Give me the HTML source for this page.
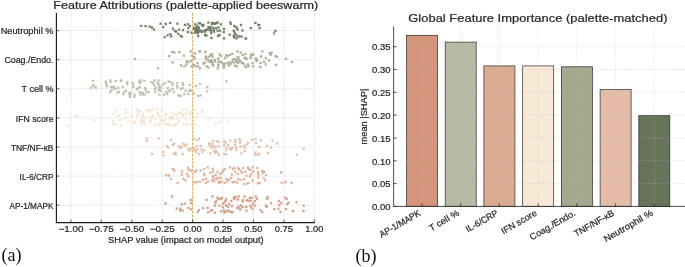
<!DOCTYPE html>
<html><head><meta charset="utf-8"><title>Feature attributions</title>
<style>html,body{margin:0;padding:0;background:#fff}svg text.s{stroke:#262626;stroke-width:0.22px}body{width:685px;height:267px;overflow:hidden}</style></head>
<body>
<svg width="685" height="267" viewBox="0 0 685 267" style="display:block;will-change:transform;font-family:'Liberation Sans',sans-serif">
<rect width="685" height="267" fill="#fff"/>
<g id="left">
<g stroke="#cbcbcb" stroke-width="0.7" stroke-dasharray="1 1.1" fill="none">
<path d="M70.9 13.1V222.6"/>
<path d="M101.3 13.1V222.6"/>
<path d="M131.8 13.1V222.6"/>
<path d="M162.2 13.1V222.6"/>
<path d="M192.6 13.1V222.6"/>
<path d="M223.0 13.1V222.6"/>
<path d="M253.4 13.1V222.6"/>
<path d="M283.9 13.1V222.6"/>
<path d="M314.3 13.1V222.6"/>
<path d="M56.4 30.6H314.8"/>
<path d="M56.4 59.7H314.8"/>
<path d="M56.4 88.8H314.8"/>
<path d="M56.4 117.9H314.8"/>
<path d="M56.4 147.0H314.8"/>
<path d="M56.4 176.1H314.8"/>
<path d="M56.4 205.2H314.8"/>
</g>
<path d="M192.6 13.1V222.6" stroke="#E8A33D" stroke-width="0.9" stroke-dasharray="2.6 1.2" fill="none"/>
<path d="M140.3 24.9l2.0 2.0m0 -2.0l-2.0 2.0M144.5 25.2l2.0 2.0m0 -2.0l-2.0 2.0M148.5 25.6l2.0 2.0m0 -2.0l-2.0 2.0M151.0 26.5l2.0 2.0m0 -2.0l-2.0 2.0M153.0 28.7l2.0 2.0m0 -2.0l-2.0 2.0M159.6 22.6l2.0 2.0m0 -2.0l-2.0 2.0M162.2 26.1l2.0 2.0m0 -2.0l-2.0 2.0M164.7 23.0l2.0 2.0m0 -2.0l-2.0 2.0M169.2 21.9l2.0 2.0m0 -2.0l-2.0 2.0M176.4 22.6l2.0 2.0m0 -2.0l-2.0 2.0M163.6 36.1l2.0 2.0m0 -2.0l-2.0 2.0M166.5 34.4l2.0 2.0m0 -2.0l-2.0 2.0M169.4 33.1l2.0 2.0m0 -2.0l-2.0 2.0M170.2 35.4l2.0 2.0m0 -2.0l-2.0 2.0M171.9 27.6l2.0 2.0m0 -2.0l-2.0 2.0M173.8 29.8l2.0 2.0m0 -2.0l-2.0 2.0M175.1 30.5l2.0 2.0m0 -2.0l-2.0 2.0M177.3 32.8l2.0 2.0m0 -2.0l-2.0 2.0M179.7 34.8l2.0 2.0m0 -2.0l-2.0 2.0M181.0 35.7l2.0 2.0m0 -2.0l-2.0 2.0M178.0 28.7l2.0 2.0m0 -2.0l-2.0 2.0M182.0 29.1l2.0 2.0m0 -2.0l-2.0 2.0M183.9 23.9l2.0 2.0m0 -2.0l-2.0 2.0M249.8 27.2l2.0 2.0m0 -2.0l-2.0 2.0M254.4 21.9l2.0 2.0m0 -2.0l-2.0 2.0M257.3 23.9l2.0 2.0m0 -2.0l-2.0 2.0M258.3 24.2l2.0 2.0m0 -2.0l-2.0 2.0M258.6 27.2l2.0 2.0m0 -2.0l-2.0 2.0M274.4 29.8l2.0 2.0m0 -2.0l-2.0 2.0M273.1 32.4l2.0 2.0m0 -2.0l-2.0 2.0M245.1 37.7l2.0 2.0m0 -2.0l-2.0 2.0M186.9 23.3l2.0 2.0m0 -2.0l-2.0 2.0M188.9 24.8l2.0 2.0m0 -2.0l-2.0 2.0M187.4 27.2l2.0 2.0m0 -2.0l-2.0 2.0M186.9 31.1l2.0 2.0m0 -2.0l-2.0 2.0M190.4 31.6l2.0 2.0m0 -2.0l-2.0 2.0M193.3 27.7l2.0 2.0m0 -2.0l-2.0 2.0M194.3 28.7l2.0 2.0m0 -2.0l-2.0 2.0M195.2 29.7l2.0 2.0m0 -2.0l-2.0 2.0M195.7 27.7l2.0 2.0m0 -2.0l-2.0 2.0M194.7 31.1l2.0 2.0m0 -2.0l-2.0 2.0M193.8 31.6l2.0 2.0m0 -2.0l-2.0 2.0M196.2 26.7l2.0 2.0m0 -2.0l-2.0 2.0M197.2 30.1l2.0 2.0m0 -2.0l-2.0 2.0M196.7 32.1l2.0 2.0m0 -2.0l-2.0 2.0M197.7 28.7l2.0 2.0m0 -2.0l-2.0 2.0M197.2 35.0l2.0 2.0m0 -2.0l-2.0 2.0M198.1 26.3l2.0 2.0m0 -2.0l-2.0 2.0M198.6 30.6l2.0 2.0m0 -2.0l-2.0 2.0M197.7 22.4l2.0 2.0m0 -2.0l-2.0 2.0M199.1 22.4l2.0 2.0m0 -2.0l-2.0 2.0M200.1 29.7l2.0 2.0m0 -2.0l-2.0 2.0M201.1 23.8l2.0 2.0m0 -2.0l-2.0 2.0M202.0 24.8l2.0 2.0m0 -2.0l-2.0 2.0M202.5 23.8l2.0 2.0m0 -2.0l-2.0 2.0M201.1 31.1l2.0 2.0m0 -2.0l-2.0 2.0M203.0 29.7l2.0 2.0m0 -2.0l-2.0 2.0M204.0 34.0l2.0 2.0m0 -2.0l-2.0 2.0M205.4 34.5l2.0 2.0m0 -2.0l-2.0 2.0M205.0 29.2l2.0 2.0m0 -2.0l-2.0 2.0M205.9 28.7l2.0 2.0m0 -2.0l-2.0 2.0M207.4 21.7l2.0 2.0m0 -2.0l-2.0 2.0M207.9 26.7l2.0 2.0m0 -2.0l-2.0 2.0M208.4 29.2l2.0 2.0m0 -2.0l-2.0 2.0M209.3 25.8l2.0 2.0m0 -2.0l-2.0 2.0M209.8 27.7l2.0 2.0m0 -2.0l-2.0 2.0M210.3 30.1l2.0 2.0m0 -2.0l-2.0 2.0M210.5 37.0l2.0 2.0m0 -2.0l-2.0 2.0M211.1 21.9l2.0 2.0m0 -2.0l-2.0 2.0M211.8 22.4l2.0 2.0m0 -2.0l-2.0 2.0M212.3 26.7l2.0 2.0m0 -2.0l-2.0 2.0M212.8 28.7l2.0 2.0m0 -2.0l-2.0 2.0M213.2 30.6l2.0 2.0m0 -2.0l-2.0 2.0M213.7 22.4l2.0 2.0m0 -2.0l-2.0 2.0M214.2 22.8l2.0 2.0m0 -2.0l-2.0 2.0M215.2 27.2l2.0 2.0m0 -2.0l-2.0 2.0M216.2 21.9l2.0 2.0m0 -2.0l-2.0 2.0M216.6 29.7l2.0 2.0m0 -2.0l-2.0 2.0M217.1 35.0l2.0 2.0m0 -2.0l-2.0 2.0M217.6 26.3l2.0 2.0m0 -2.0l-2.0 2.0M218.6 34.0l2.0 2.0m0 -2.0l-2.0 2.0M219.1 29.7l2.0 2.0m0 -2.0l-2.0 2.0M219.9 23.3l2.0 2.0m0 -2.0l-2.0 2.0M216.6 21.4l2.0 2.0m0 -2.0l-2.0 2.0M223.0 27.9l2.0 2.0m0 -2.0l-2.0 2.0M222.8 31.1l2.0 2.0m0 -2.0l-2.0 2.0M223.0 37.3l2.0 2.0m0 -2.0l-2.0 2.0M229.3 21.4l2.0 2.0m0 -2.0l-2.0 2.0M229.8 22.8l2.0 2.0m0 -2.0l-2.0 2.0M228.6 33.7l2.0 2.0m0 -2.0l-2.0 2.0M232.7 29.7l2.0 2.0m0 -2.0l-2.0 2.0M233.2 24.8l2.0 2.0m0 -2.0l-2.0 2.0M233.7 31.6l2.0 2.0m0 -2.0l-2.0 2.0M234.7 25.8l2.0 2.0m0 -2.0l-2.0 2.0M234.2 33.1l2.0 2.0m0 -2.0l-2.0 2.0M232.7 35.0l2.0 2.0m0 -2.0l-2.0 2.0M233.2 36.5l2.0 2.0m0 -2.0l-2.0 2.0M235.6 37.4l2.0 2.0m0 -2.0l-2.0 2.0M236.1 27.2l2.0 2.0m0 -2.0l-2.0 2.0M236.6 28.7l2.0 2.0m0 -2.0l-2.0 2.0M235.6 34.5l2.0 2.0m0 -2.0l-2.0 2.0M238.1 35.5l2.0 2.0m0 -2.0l-2.0 2.0M240.0 24.0l2.0 2.0m0 -2.0l-2.0 2.0M240.5 35.5l2.0 2.0m0 -2.0l-2.0 2.0M241.5 29.5l2.0 2.0m0 -2.0l-2.0 2.0M244.6 37.4l2.0 2.0m0 -2.0l-2.0 2.0M201.4 24.0l2.0 2.0m0 -2.0l-2.0 2.0M210.9 23.2l2.0 2.0m0 -2.0l-2.0 2.0M207.5 26.2l2.0 2.0m0 -2.0l-2.0 2.0M193.7 27.6l2.0 2.0m0 -2.0l-2.0 2.0M193.1 26.8l2.0 2.0m0 -2.0l-2.0 2.0M194.0 23.4l2.0 2.0m0 -2.0l-2.0 2.0M204.3 30.8l2.0 2.0m0 -2.0l-2.0 2.0M195.6 24.7l2.0 2.0m0 -2.0l-2.0 2.0M210.2 32.0l2.0 2.0m0 -2.0l-2.0 2.0M208.7 26.5l2.0 2.0m0 -2.0l-2.0 2.0" stroke="#66745A" stroke-width="1.1" fill="none" opacity="0.95"/>
<path d="M134.1 57.9l2.0 2.0m0 -2.0l-2.0 2.0M157.1 67.3l2.0 2.0m0 -2.0l-2.0 2.0M168.3 55.2l2.0 2.0m0 -2.0l-2.0 2.0M171.3 50.9l2.0 2.0m0 -2.0l-2.0 2.0M173.5 51.6l2.0 2.0m0 -2.0l-2.0 2.0M178.4 51.2l2.0 2.0m0 -2.0l-2.0 2.0M171.6 61.4l2.0 2.0m0 -2.0l-2.0 2.0M183.0 54.6l2.0 2.0m0 -2.0l-2.0 2.0M180.1 64.4l2.0 2.0m0 -2.0l-2.0 2.0M183.4 65.4l2.0 2.0m0 -2.0l-2.0 2.0M185.4 63.4l2.0 2.0m0 -2.0l-2.0 2.0M185.8 60.5l2.0 2.0m0 -2.0l-2.0 2.0M187.3 60.8l2.0 2.0m0 -2.0l-2.0 2.0M189.7 50.3l2.0 2.0m0 -2.0l-2.0 2.0M190.0 60.1l2.0 2.0m0 -2.0l-2.0 2.0M191.0 54.6l2.0 2.0m0 -2.0l-2.0 2.0M190.6 65.4l2.0 2.0m0 -2.0l-2.0 2.0M193.9 52.5l2.0 2.0m0 -2.0l-2.0 2.0M193.2 56.2l2.0 2.0m0 -2.0l-2.0 2.0M193.6 57.5l2.0 2.0m0 -2.0l-2.0 2.0M192.9 64.1l2.0 2.0m0 -2.0l-2.0 2.0M194.6 65.4l2.0 2.0m0 -2.0l-2.0 2.0M196.5 62.1l2.0 2.0m0 -2.0l-2.0 2.0M197.2 65.4l2.0 2.0m0 -2.0l-2.0 2.0M198.5 50.3l2.0 2.0m0 -2.0l-2.0 2.0M204.3 51.2l2.0 2.0m0 -2.0l-2.0 2.0M199.0 50.3l2.0 2.0m0 -2.0l-2.0 2.0M210.8 53.1l2.0 2.0m0 -2.0l-2.0 2.0M211.5 55.5l2.0 2.0m0 -2.0l-2.0 2.0M207.5 56.2l2.0 2.0m0 -2.0l-2.0 2.0M204.9 57.5l2.0 2.0m0 -2.0l-2.0 2.0M206.9 59.5l2.0 2.0m0 -2.0l-2.0 2.0M210.2 59.7l2.0 2.0m0 -2.0l-2.0 2.0M202.3 62.7l2.0 2.0m0 -2.0l-2.0 2.0M205.6 65.4l2.0 2.0m0 -2.0l-2.0 2.0M207.5 66.7l2.0 2.0m0 -2.0l-2.0 2.0M199.0 67.3l2.0 2.0m0 -2.0l-2.0 2.0M211.5 62.7l2.0 2.0m0 -2.0l-2.0 2.0M212.1 64.7l2.0 2.0m0 -2.0l-2.0 2.0M217.4 57.5l2.0 2.0m0 -2.0l-2.0 2.0M218.7 53.5l2.0 2.0m0 -2.0l-2.0 2.0M220.0 54.9l2.0 2.0m0 -2.0l-2.0 2.0M218.7 60.8l2.0 2.0m0 -2.0l-2.0 2.0M217.4 64.7l2.0 2.0m0 -2.0l-2.0 2.0M216.7 67.3l2.0 2.0m0 -2.0l-2.0 2.0M220.7 61.4l2.0 2.0m0 -2.0l-2.0 2.0M222.0 63.4l2.0 2.0m0 -2.0l-2.0 2.0M223.3 65.4l2.0 2.0m0 -2.0l-2.0 2.0M222.7 66.7l2.0 2.0m0 -2.0l-2.0 2.0M225.3 54.2l2.0 2.0m0 -2.0l-2.0 2.0M226.6 55.2l2.0 2.0m0 -2.0l-2.0 2.0M226.6 62.1l2.0 2.0m0 -2.0l-2.0 2.0M228.6 61.4l2.0 2.0m0 -2.0l-2.0 2.0M227.9 64.7l2.0 2.0m0 -2.0l-2.0 2.0M231.2 52.9l2.0 2.0m0 -2.0l-2.0 2.0M231.9 58.8l2.0 2.0m0 -2.0l-2.0 2.0M231.2 61.4l2.0 2.0m0 -2.0l-2.0 2.0M233.8 64.7l2.0 2.0m0 -2.0l-2.0 2.0M235.8 65.4l2.0 2.0m0 -2.0l-2.0 2.0M236.5 50.5l2.0 2.0m0 -2.0l-2.0 2.0M236.5 56.2l2.0 2.0m0 -2.0l-2.0 2.0M237.8 58.8l2.0 2.0m0 -2.0l-2.0 2.0M237.1 62.1l2.0 2.0m0 -2.0l-2.0 2.0M239.7 51.6l2.0 2.0m0 -2.0l-2.0 2.0M241.7 54.2l2.0 2.0m0 -2.0l-2.0 2.0M244.3 53.1l2.0 2.0m0 -2.0l-2.0 2.0M243.7 56.8l2.0 2.0m0 -2.0l-2.0 2.0M245.6 58.1l2.0 2.0m0 -2.0l-2.0 2.0M242.4 62.1l2.0 2.0m0 -2.0l-2.0 2.0M243.7 64.7l2.0 2.0m0 -2.0l-2.0 2.0M245.0 66.0l2.0 2.0m0 -2.0l-2.0 2.0M247.0 63.4l2.0 2.0m0 -2.0l-2.0 2.0M247.6 65.4l2.0 2.0m0 -2.0l-2.0 2.0M249.6 56.8l2.0 2.0m0 -2.0l-2.0 2.0M251.6 62.1l2.0 2.0m0 -2.0l-2.0 2.0M252.2 53.5l2.0 2.0m0 -2.0l-2.0 2.0M252.2 65.4l2.0 2.0m0 -2.0l-2.0 2.0M254.8 57.5l2.0 2.0m0 -2.0l-2.0 2.0M256.2 58.8l2.0 2.0m0 -2.0l-2.0 2.0M255.5 60.1l2.0 2.0m0 -2.0l-2.0 2.0M208.9 60.8l2.0 2.0m0 -2.0l-2.0 2.0M213.5 58.8l2.0 2.0m0 -2.0l-2.0 2.0M224.0 62.7l2.0 2.0m0 -2.0l-2.0 2.0M229.9 62.7l2.0 2.0m0 -2.0l-2.0 2.0M239.1 60.1l2.0 2.0m0 -2.0l-2.0 2.0M233.8 61.4l2.0 2.0m0 -2.0l-2.0 2.0M261.4 50.3l2.0 2.0m0 -2.0l-2.0 2.0M260.1 55.5l2.0 2.0m0 -2.0l-2.0 2.0M259.4 62.1l2.0 2.0m0 -2.0l-2.0 2.0M259.4 66.0l2.0 2.0m0 -2.0l-2.0 2.0M263.0 60.8l2.0 2.0m0 -2.0l-2.0 2.0M264.7 57.1l2.0 2.0m0 -2.0l-2.0 2.0M264.7 63.4l2.0 2.0m0 -2.0l-2.0 2.0M268.0 59.5l2.0 2.0m0 -2.0l-2.0 2.0M268.6 52.2l2.0 2.0m0 -2.0l-2.0 2.0M270.6 51.6l2.0 2.0m0 -2.0l-2.0 2.0M269.7 53.9l2.0 2.0m0 -2.0l-2.0 2.0M274.6 55.2l2.0 2.0m0 -2.0l-2.0 2.0M275.9 55.8l2.0 2.0m0 -2.0l-2.0 2.0M274.8 63.8l2.0 2.0m0 -2.0l-2.0 2.0M285.1 57.9l2.0 2.0m0 -2.0l-2.0 2.0M291.0 61.2l2.0 2.0m0 -2.0l-2.0 2.0M202.4 62.7l2.0 2.0m0 -2.0l-2.0 2.0M204.4 51.2l2.0 2.0m0 -2.0l-2.0 2.0M204.7 57.5l2.0 2.0m0 -2.0l-2.0 2.0M249.8 53.6l2.0 2.0m0 -2.0l-2.0 2.0M244.1 56.8l2.0 2.0m0 -2.0l-2.0 2.0M209.1 54.5l2.0 2.0m0 -2.0l-2.0 2.0M217.1 63.6l2.0 2.0m0 -2.0l-2.0 2.0M210.9 60.6l2.0 2.0m0 -2.0l-2.0 2.0M233.3 57.8l2.0 2.0m0 -2.0l-2.0 2.0M228.8 53.8l2.0 2.0m0 -2.0l-2.0 2.0M204.9 55.7l2.0 2.0m0 -2.0l-2.0 2.0M235.3 58.6l2.0 2.0m0 -2.0l-2.0 2.0M217.4 60.6l2.0 2.0m0 -2.0l-2.0 2.0M224.2 56.9l2.0 2.0m0 -2.0l-2.0 2.0M240.9 62.1l2.0 2.0m0 -2.0l-2.0 2.0M214.0 60.5l2.0 2.0m0 -2.0l-2.0 2.0M227.7 64.4l2.0 2.0m0 -2.0l-2.0 2.0M237.7 56.7l2.0 2.0m0 -2.0l-2.0 2.0M250.0 54.5l2.0 2.0m0 -2.0l-2.0 2.0M222.5 62.8l2.0 2.0m0 -2.0l-2.0 2.0M209.4 59.4l2.0 2.0m0 -2.0l-2.0 2.0M203.9 61.7l2.0 2.0m0 -2.0l-2.0 2.0M239.5 60.4l2.0 2.0m0 -2.0l-2.0 2.0M244.9 57.1l2.0 2.0m0 -2.0l-2.0 2.0M236.1 60.7l2.0 2.0m0 -2.0l-2.0 2.0" stroke="#A4A88D" stroke-width="1.1" fill="none" opacity="0.95"/>
<path d="M91.7 79.9l2.0 2.0m0 -2.0l-2.0 2.0M92.1 84.2l2.0 2.0m0 -2.0l-2.0 2.0M90.2 86.5l2.0 2.0m0 -2.0l-2.0 2.0M93.1 85.2l2.0 2.0m0 -2.0l-2.0 2.0M94.8 86.5l2.0 2.0m0 -2.0l-2.0 2.0M104.9 80.6l2.0 2.0m0 -2.0l-2.0 2.0M104.9 82.1l2.0 2.0m0 -2.0l-2.0 2.0M105.3 83.9l2.0 2.0m0 -2.0l-2.0 2.0M105.9 85.2l2.0 2.0m0 -2.0l-2.0 2.0M109.5 79.5l2.0 2.0m0 -2.0l-2.0 2.0M109.5 81.2l2.0 2.0m0 -2.0l-2.0 2.0M114.7 80.2l2.0 2.0m0 -2.0l-2.0 2.0M119.7 79.3l2.0 2.0m0 -2.0l-2.0 2.0M120.4 79.9l2.0 2.0m0 -2.0l-2.0 2.0M109.9 85.8l2.0 2.0m0 -2.0l-2.0 2.0M111.9 86.5l2.0 2.0m0 -2.0l-2.0 2.0M113.2 85.8l2.0 2.0m0 -2.0l-2.0 2.0M114.2 88.2l2.0 2.0m0 -2.0l-2.0 2.0M117.1 86.9l2.0 2.0m0 -2.0l-2.0 2.0M121.7 85.8l2.0 2.0m0 -2.0l-2.0 2.0M110.5 89.5l2.0 2.0m0 -2.0l-2.0 2.0M109.2 91.1l2.0 2.0m0 -2.0l-2.0 2.0M116.5 91.7l2.0 2.0m0 -2.0l-2.0 2.0M117.8 90.8l2.0 2.0m0 -2.0l-2.0 2.0M122.4 93.1l2.0 2.0m0 -2.0l-2.0 2.0M123.0 91.1l2.0 2.0m0 -2.0l-2.0 2.0M125.0 89.8l2.0 2.0m0 -2.0l-2.0 2.0M126.3 81.2l2.0 2.0m0 -2.0l-2.0 2.0M126.3 83.2l2.0 2.0m0 -2.0l-2.0 2.0M128.3 92.4l2.0 2.0m0 -2.0l-2.0 2.0M129.6 91.7l2.0 2.0m0 -2.0l-2.0 2.0M128.7 94.4l2.0 2.0m0 -2.0l-2.0 2.0M128.9 95.7l2.0 2.0m0 -2.0l-2.0 2.0M131.6 82.1l2.0 2.0m0 -2.0l-2.0 2.0M132.2 83.5l2.0 2.0m0 -2.0l-2.0 2.0M132.2 85.8l2.0 2.0m0 -2.0l-2.0 2.0M133.5 93.7l2.0 2.0m0 -2.0l-2.0 2.0M133.5 95.7l2.0 2.0m0 -2.0l-2.0 2.0M135.8 88.2l2.0 2.0m0 -2.0l-2.0 2.0M137.5 87.1l2.0 2.0m0 -2.0l-2.0 2.0M138.8 86.1l2.0 2.0m0 -2.0l-2.0 2.0M138.1 80.6l2.0 2.0m0 -2.0l-2.0 2.0M139.2 82.1l2.0 2.0m0 -2.0l-2.0 2.0M139.7 79.5l2.0 2.0m0 -2.0l-2.0 2.0M143.4 79.9l2.0 2.0m0 -2.0l-2.0 2.0M138.8 90.8l2.0 2.0m0 -2.0l-2.0 2.0M139.4 93.7l2.0 2.0m0 -2.0l-2.0 2.0M141.4 91.7l2.0 2.0m0 -2.0l-2.0 2.0M142.1 93.1l2.0 2.0m0 -2.0l-2.0 2.0M143.4 93.7l2.0 2.0m0 -2.0l-2.0 2.0M144.0 87.1l2.0 2.0m0 -2.0l-2.0 2.0M144.7 88.5l2.0 2.0m0 -2.0l-2.0 2.0M145.4 91.1l2.0 2.0m0 -2.0l-2.0 2.0M148.0 90.8l2.0 2.0m0 -2.0l-2.0 2.0M150.6 81.2l2.0 2.0m0 -2.0l-2.0 2.0M151.9 82.1l2.0 2.0m0 -2.0l-2.0 2.0M153.2 83.9l2.0 2.0m0 -2.0l-2.0 2.0M153.6 79.5l2.0 2.0m0 -2.0l-2.0 2.0M154.6 86.5l2.0 2.0m0 -2.0l-2.0 2.0M153.9 88.2l2.0 2.0m0 -2.0l-2.0 2.0M154.2 90.8l2.0 2.0m0 -2.0l-2.0 2.0M156.5 81.9l2.0 2.0m0 -2.0l-2.0 2.0M157.6 79.5l2.0 2.0m0 -2.0l-2.0 2.0M157.6 83.2l2.0 2.0m0 -2.0l-2.0 2.0M157.8 85.2l2.0 2.0m0 -2.0l-2.0 2.0M158.5 87.1l2.0 2.0m0 -2.0l-2.0 2.0M157.8 89.1l2.0 2.0m0 -2.0l-2.0 2.0M158.5 93.7l2.0 2.0m0 -2.0l-2.0 2.0M161.6 83.9l2.0 2.0m0 -2.0l-2.0 2.0M163.6 82.1l2.0 2.0m0 -2.0l-2.0 2.0M159.7 86.5l2.0 2.0m0 -2.0l-2.0 2.0M159.7 89.8l2.0 2.0m0 -2.0l-2.0 2.0M162.9 93.7l2.0 2.0m0 -2.0l-2.0 2.0M164.9 91.1l2.0 2.0m0 -2.0l-2.0 2.0M166.2 93.1l2.0 2.0m0 -2.0l-2.0 2.0M166.6 87.1l2.0 2.0m0 -2.0l-2.0 2.0M167.5 80.6l2.0 2.0m0 -2.0l-2.0 2.0M168.9 80.8l2.0 2.0m0 -2.0l-2.0 2.0M169.2 89.5l2.0 2.0m0 -2.0l-2.0 2.0M167.5 90.4l2.0 2.0m0 -2.0l-2.0 2.0M171.5 82.1l2.0 2.0m0 -2.0l-2.0 2.0M171.5 83.9l2.0 2.0m0 -2.0l-2.0 2.0M171.7 87.8l2.0 2.0m0 -2.0l-2.0 2.0M172.8 91.1l2.0 2.0m0 -2.0l-2.0 2.0M176.1 82.1l2.0 2.0m0 -2.0l-2.0 2.0M176.1 85.2l2.0 2.0m0 -2.0l-2.0 2.0M176.5 86.5l2.0 2.0m0 -2.0l-2.0 2.0M177.4 94.4l2.0 2.0m0 -2.0l-2.0 2.0M179.4 94.8l2.0 2.0m0 -2.0l-2.0 2.0M180.0 87.8l2.0 2.0m0 -2.0l-2.0 2.0M181.6 86.9l2.0 2.0m0 -2.0l-2.0 2.0M181.6 82.1l2.0 2.0m0 -2.0l-2.0 2.0M182.0 83.9l2.0 2.0m0 -2.0l-2.0 2.0M183.3 93.1l2.0 2.0m0 -2.0l-2.0 2.0M184.6 89.8l2.0 2.0m0 -2.0l-2.0 2.0M187.3 93.1l2.0 2.0m0 -2.0l-2.0 2.0M188.2 89.8l2.0 2.0m0 -2.0l-2.0 2.0M188.6 84.2l2.0 2.0m0 -2.0l-2.0 2.0M189.9 89.5l2.0 2.0m0 -2.0l-2.0 2.0M192.9 92.4l2.0 2.0m0 -2.0l-2.0 2.0M195.1 85.2l2.0 2.0m0 -2.0l-2.0 2.0M199.1 83.2l2.0 2.0m0 -2.0l-2.0 2.0M197.1 95.0l2.0 2.0m0 -2.0l-2.0 2.0M199.7 94.4l2.0 2.0m0 -2.0l-2.0 2.0M206.3 86.1l2.0 2.0m0 -2.0l-2.0 2.0M206.3 90.4l2.0 2.0m0 -2.0l-2.0 2.0M225.4 80.3l2.0 2.0m0 -2.0l-2.0 2.0" stroke="#B7BAA5" stroke-width="1.1" fill="none" opacity="0.95"/>
<path d="M67.1 124.9l2.0 2.0m0 -2.0l-2.0 2.0M75.0 114.2l2.0 2.0m0 -2.0l-2.0 2.0M76.7 115.9l2.0 2.0m0 -2.0l-2.0 2.0M93.6 119.4l2.0 2.0m0 -2.0l-2.0 2.0M111.6 113.2l2.0 2.0m0 -2.0l-2.0 2.0M112.0 119.8l2.0 2.0m0 -2.0l-2.0 2.0M112.2 123.1l2.0 2.0m0 -2.0l-2.0 2.0M114.5 123.4l2.0 2.0m0 -2.0l-2.0 2.0M114.8 109.6l2.0 2.0m0 -2.0l-2.0 2.0M116.4 114.8l2.0 2.0m0 -2.0l-2.0 2.0M117.7 114.6l2.0 2.0m0 -2.0l-2.0 2.0M118.8 119.0l2.0 2.0m0 -2.0l-2.0 2.0M119.7 124.9l2.0 2.0m0 -2.0l-2.0 2.0M124.7 108.9l2.0 2.0m0 -2.0l-2.0 2.0M124.7 111.9l2.0 2.0m0 -2.0l-2.0 2.0M125.1 116.8l2.0 2.0m0 -2.0l-2.0 2.0M126.9 120.1l2.0 2.0m0 -2.0l-2.0 2.0M130.6 115.1l2.0 2.0m0 -2.0l-2.0 2.0M131.9 122.1l2.0 2.0m0 -2.0l-2.0 2.0M133.9 121.4l2.0 2.0m0 -2.0l-2.0 2.0M135.5 108.5l2.0 2.0m0 -2.0l-2.0 2.0M136.5 109.3l2.0 2.0m0 -2.0l-2.0 2.0M135.9 114.6l2.0 2.0m0 -2.0l-2.0 2.0M137.4 112.5l2.0 2.0m0 -2.0l-2.0 2.0M138.8 110.2l2.0 2.0m0 -2.0l-2.0 2.0M196.8 112.9l2.0 2.0m0 -2.0l-2.0 2.0M196.4 116.1l2.0 2.0m0 -2.0l-2.0 2.0M200.8 108.9l2.0 2.0m0 -2.0l-2.0 2.0M201.8 110.9l2.0 2.0m0 -2.0l-2.0 2.0M207.7 117.2l2.0 2.0m0 -2.0l-2.0 2.0M215.0 123.0l2.0 2.0m0 -2.0l-2.0 2.0M218.9 121.1l2.0 2.0m0 -2.0l-2.0 2.0M227.3 120.3l2.0 2.0m0 -2.0l-2.0 2.0M139.7 110.2l2.0 2.0m0 -2.0l-2.0 2.0M145.6 109.3l2.0 2.0m0 -2.0l-2.0 2.0M147.5 108.9l2.0 2.0m0 -2.0l-2.0 2.0M148.9 109.6l2.0 2.0m0 -2.0l-2.0 2.0M152.1 108.3l2.0 2.0m0 -2.0l-2.0 2.0M155.4 108.0l2.0 2.0m0 -2.0l-2.0 2.0M160.7 108.5l2.0 2.0m0 -2.0l-2.0 2.0M161.3 110.2l2.0 2.0m0 -2.0l-2.0 2.0M156.7 112.2l2.0 2.0m0 -2.0l-2.0 2.0M157.4 114.2l2.0 2.0m0 -2.0l-2.0 2.0M152.1 114.8l2.0 2.0m0 -2.0l-2.0 2.0M150.8 115.5l2.0 2.0m0 -2.0l-2.0 2.0M150.2 118.1l2.0 2.0m0 -2.0l-2.0 2.0M142.9 116.1l2.0 2.0m0 -2.0l-2.0 2.0M140.3 119.4l2.0 2.0m0 -2.0l-2.0 2.0M141.0 121.4l2.0 2.0m0 -2.0l-2.0 2.0M139.7 123.4l2.0 2.0m0 -2.0l-2.0 2.0M143.6 123.4l2.0 2.0m0 -2.0l-2.0 2.0M148.2 121.4l2.0 2.0m0 -2.0l-2.0 2.0M149.5 120.7l2.0 2.0m0 -2.0l-2.0 2.0M153.5 124.0l2.0 2.0m0 -2.0l-2.0 2.0M157.4 123.4l2.0 2.0m0 -2.0l-2.0 2.0M159.4 124.0l2.0 2.0m0 -2.0l-2.0 2.0M160.0 120.1l2.0 2.0m0 -2.0l-2.0 2.0M162.7 119.4l2.0 2.0m0 -2.0l-2.0 2.0M164.0 122.7l2.0 2.0m0 -2.0l-2.0 2.0M165.3 123.4l2.0 2.0m0 -2.0l-2.0 2.0M167.3 123.0l2.0 2.0m0 -2.0l-2.0 2.0M169.9 123.8l2.0 2.0m0 -2.0l-2.0 2.0M165.3 113.5l2.0 2.0m0 -2.0l-2.0 2.0M164.6 112.9l2.0 2.0m0 -2.0l-2.0 2.0M170.5 111.5l2.0 2.0m0 -2.0l-2.0 2.0M173.8 112.9l2.0 2.0m0 -2.0l-2.0 2.0M175.8 113.5l2.0 2.0m0 -2.0l-2.0 2.0M178.4 112.2l2.0 2.0m0 -2.0l-2.0 2.0M171.9 116.1l2.0 2.0m0 -2.0l-2.0 2.0M171.2 118.1l2.0 2.0m0 -2.0l-2.0 2.0M176.5 117.5l2.0 2.0m0 -2.0l-2.0 2.0M177.8 120.1l2.0 2.0m0 -2.0l-2.0 2.0M169.2 117.5l2.0 2.0m0 -2.0l-2.0 2.0M173.2 124.7l2.0 2.0m0 -2.0l-2.0 2.0M175.1 123.4l2.0 2.0m0 -2.0l-2.0 2.0M179.7 111.5l2.0 2.0m0 -2.0l-2.0 2.0M181.7 108.5l2.0 2.0m0 -2.0l-2.0 2.0M183.0 115.5l2.0 2.0m0 -2.0l-2.0 2.0M185.0 112.9l2.0 2.0m0 -2.0l-2.0 2.0M185.3 108.5l2.0 2.0m0 -2.0l-2.0 2.0M185.0 118.8l2.0 2.0m0 -2.0l-2.0 2.0M186.0 124.0l2.0 2.0m0 -2.0l-2.0 2.0M188.9 113.2l2.0 2.0m0 -2.0l-2.0 2.0M189.6 111.1l2.0 2.0m0 -2.0l-2.0 2.0M190.2 123.4l2.0 2.0m0 -2.0l-2.0 2.0M193.5 123.4l2.0 2.0m0 -2.0l-2.0 2.0M193.1 108.5l2.0 2.0m0 -2.0l-2.0 2.0M158.7 114.8l2.0 2.0m0 -2.0l-2.0 2.0M146.9 116.1l2.0 2.0m0 -2.0l-2.0 2.0M141.6 112.9l2.0 2.0m0 -2.0l-2.0 2.0M154.8 117.5l2.0 2.0m0 -2.0l-2.0 2.0M169.6 115.8l2.0 2.0m0 -2.0l-2.0 2.0M182.8 123.2l2.0 2.0m0 -2.0l-2.0 2.0M164.2 119.0l2.0 2.0m0 -2.0l-2.0 2.0M143.1 119.5l2.0 2.0m0 -2.0l-2.0 2.0M173.0 123.9l2.0 2.0m0 -2.0l-2.0 2.0M181.9 113.3l2.0 2.0m0 -2.0l-2.0 2.0M159.7 119.0l2.0 2.0m0 -2.0l-2.0 2.0M141.2 115.9l2.0 2.0m0 -2.0l-2.0 2.0M148.6 110.8l2.0 2.0m0 -2.0l-2.0 2.0M143.0 120.5l2.0 2.0m0 -2.0l-2.0 2.0" stroke="#F5E1CB" stroke-width="1.1" fill="none" opacity="0.95"/>
<path d="M145.6 137.3l2.0 2.0m0 -2.0l-2.0 2.0M145.8 139.9l2.0 2.0m0 -2.0l-2.0 2.0M158.1 137.3l2.0 2.0m0 -2.0l-2.0 2.0M151.2 152.8l2.0 2.0m0 -2.0l-2.0 2.0M162.0 150.8l2.0 2.0m0 -2.0l-2.0 2.0M162.3 154.1l2.0 2.0m0 -2.0l-2.0 2.0M165.9 144.9l2.0 2.0m0 -2.0l-2.0 2.0M167.3 146.5l2.0 2.0m0 -2.0l-2.0 2.0M170.1 139.2l2.0 2.0m0 -2.0l-2.0 2.0M171.9 143.8l2.0 2.0m0 -2.0l-2.0 2.0M173.2 142.5l2.0 2.0m0 -2.0l-2.0 2.0M172.5 152.8l2.0 2.0m0 -2.0l-2.0 2.0M174.5 151.7l2.0 2.0m0 -2.0l-2.0 2.0M174.7 153.3l2.0 2.0m0 -2.0l-2.0 2.0M177.8 145.1l2.0 2.0m0 -2.0l-2.0 2.0M179.1 147.1l2.0 2.0m0 -2.0l-2.0 2.0M180.4 145.8l2.0 2.0m0 -2.0l-2.0 2.0M181.7 152.8l2.0 2.0m0 -2.0l-2.0 2.0M182.4 142.8l2.0 2.0m0 -2.0l-2.0 2.0M183.7 144.5l2.0 2.0m0 -2.0l-2.0 2.0M185.6 143.6l2.0 2.0m0 -2.0l-2.0 2.0M187.0 147.8l2.0 2.0m0 -2.0l-2.0 2.0M188.7 149.7l2.0 2.0m0 -2.0l-2.0 2.0M189.6 147.5l2.0 2.0m0 -2.0l-2.0 2.0M192.9 137.9l2.0 2.0m0 -2.0l-2.0 2.0M193.1 147.5l2.0 2.0m0 -2.0l-2.0 2.0M194.2 149.1l2.0 2.0m0 -2.0l-2.0 2.0M194.8 151.1l2.0 2.0m0 -2.0l-2.0 2.0M195.8 145.1l2.0 2.0m0 -2.0l-2.0 2.0M196.4 139.2l2.0 2.0m0 -2.0l-2.0 2.0M196.8 148.4l2.0 2.0m0 -2.0l-2.0 2.0M198.1 137.5l2.0 2.0m0 -2.0l-2.0 2.0M197.7 153.0l2.0 2.0m0 -2.0l-2.0 2.0M199.7 144.9l2.0 2.0m0 -2.0l-2.0 2.0M200.5 148.4l2.0 2.0m0 -2.0l-2.0 2.0M201.4 151.1l2.0 2.0m0 -2.0l-2.0 2.0M203.1 149.1l2.0 2.0m0 -2.0l-2.0 2.0M208.0 142.2l2.0 2.0m0 -2.0l-2.0 2.0M208.6 144.5l2.0 2.0m0 -2.0l-2.0 2.0M209.3 152.4l2.0 2.0m0 -2.0l-2.0 2.0M210.6 146.5l2.0 2.0m0 -2.0l-2.0 2.0M211.0 143.2l2.0 2.0m0 -2.0l-2.0 2.0M211.9 140.1l2.0 2.0m0 -2.0l-2.0 2.0M212.6 145.1l2.0 2.0m0 -2.0l-2.0 2.0M213.2 149.7l2.0 2.0m0 -2.0l-2.0 2.0M213.9 151.7l2.0 2.0m0 -2.0l-2.0 2.0M214.6 146.5l2.0 2.0m0 -2.0l-2.0 2.0M215.2 150.4l2.0 2.0m0 -2.0l-2.0 2.0M215.9 140.1l2.0 2.0m0 -2.0l-2.0 2.0M216.5 151.7l2.0 2.0m0 -2.0l-2.0 2.0M217.6 145.1l2.0 2.0m0 -2.0l-2.0 2.0M217.8 140.9l2.0 2.0m0 -2.0l-2.0 2.0M217.8 154.1l2.0 2.0m0 -2.0l-2.0 2.0M223.1 140.5l2.0 2.0m0 -2.0l-2.0 2.0M223.1 143.8l2.0 2.0m0 -2.0l-2.0 2.0M223.1 153.0l2.0 2.0m0 -2.0l-2.0 2.0M224.7 141.5l2.0 2.0m0 -2.0l-2.0 2.0M225.3 146.5l2.0 2.0m0 -2.0l-2.0 2.0M225.1 149.1l2.0 2.0m0 -2.0l-2.0 2.0M225.3 153.3l2.0 2.0m0 -2.0l-2.0 2.0M227.3 143.8l2.0 2.0m0 -2.0l-2.0 2.0M228.6 147.5l2.0 2.0m0 -2.0l-2.0 2.0M229.3 139.6l2.0 2.0m0 -2.0l-2.0 2.0M230.3 148.4l2.0 2.0m0 -2.0l-2.0 2.0M231.2 146.7l2.0 2.0m0 -2.0l-2.0 2.0M233.9 138.8l2.0 2.0m0 -2.0l-2.0 2.0M234.5 140.9l2.0 2.0m0 -2.0l-2.0 2.0M234.2 143.8l2.0 2.0m0 -2.0l-2.0 2.0M235.2 146.7l2.0 2.0m0 -2.0l-2.0 2.0M235.2 148.8l2.0 2.0m0 -2.0l-2.0 2.0M238.2 138.2l2.0 2.0m0 -2.0l-2.0 2.0M239.1 139.6l2.0 2.0m0 -2.0l-2.0 2.0M239.1 141.9l2.0 2.0m0 -2.0l-2.0 2.0M239.5 145.5l2.0 2.0m0 -2.0l-2.0 2.0M240.4 152.4l2.0 2.0m0 -2.0l-2.0 2.0M242.8 144.9l2.0 2.0m0 -2.0l-2.0 2.0M243.7 146.7l2.0 2.0m0 -2.0l-2.0 2.0M243.7 150.1l2.0 2.0m0 -2.0l-2.0 2.0M245.7 143.6l2.0 2.0m0 -2.0l-2.0 2.0M247.3 141.9l2.0 2.0m0 -2.0l-2.0 2.0M251.2 138.8l2.0 2.0m0 -2.0l-2.0 2.0M254.5 138.2l2.0 2.0m0 -2.0l-2.0 2.0M254.9 142.2l2.0 2.0m0 -2.0l-2.0 2.0M254.5 151.4l2.0 2.0m0 -2.0l-2.0 2.0M254.0 153.7l2.0 2.0m0 -2.0l-2.0 2.0M256.6 153.7l2.0 2.0m0 -2.0l-2.0 2.0M257.9 145.8l2.0 2.0m0 -2.0l-2.0 2.0M258.2 152.8l2.0 2.0m0 -2.0l-2.0 2.0M259.9 139.2l2.0 2.0m0 -2.0l-2.0 2.0M266.0 144.9l2.0 2.0m0 -2.0l-2.0 2.0M266.7 152.0l2.0 2.0m0 -2.0l-2.0 2.0M270.0 146.7l2.0 2.0m0 -2.0l-2.0 2.0M271.6 139.6l2.0 2.0m0 -2.0l-2.0 2.0M276.2 142.5l2.0 2.0m0 -2.0l-2.0 2.0M295.9 153.7l2.0 2.0m0 -2.0l-2.0 2.0M302.6 148.0l2.0 2.0m0 -2.0l-2.0 2.0" stroke="#E4BBA6" stroke-width="1.1" fill="none" opacity="0.95"/>
<path d="M165.2 174.1l2.0 2.0m0 -2.0l-2.0 2.0M167.8 174.5l2.0 2.0m0 -2.0l-2.0 2.0M169.8 177.8l2.0 2.0m0 -2.0l-2.0 2.0M171.7 167.8l2.0 2.0m0 -2.0l-2.0 2.0M173.1 169.5l2.0 2.0m0 -2.0l-2.0 2.0M176.6 181.8l2.0 2.0m0 -2.0l-2.0 2.0M180.9 170.5l2.0 2.0m0 -2.0l-2.0 2.0M180.7 173.7l2.0 2.0m0 -2.0l-2.0 2.0M182.3 177.8l2.0 2.0m0 -2.0l-2.0 2.0M184.5 179.4l2.0 2.0m0 -2.0l-2.0 2.0M186.2 172.8l2.0 2.0m0 -2.0l-2.0 2.0M187.2 166.9l2.0 2.0m0 -2.0l-2.0 2.0M187.5 169.1l2.0 2.0m0 -2.0l-2.0 2.0M187.5 175.5l2.0 2.0m0 -2.0l-2.0 2.0M190.1 169.5l2.0 2.0m0 -2.0l-2.0 2.0M193.4 181.4l2.0 2.0m0 -2.0l-2.0 2.0M194.1 170.9l2.0 2.0m0 -2.0l-2.0 2.0M195.4 169.5l2.0 2.0m0 -2.0l-2.0 2.0M196.0 181.0l2.0 2.0m0 -2.0l-2.0 2.0M198.9 180.7l2.0 2.0m0 -2.0l-2.0 2.0M199.6 169.5l2.0 2.0m0 -2.0l-2.0 2.0M202.0 178.7l2.0 2.0m0 -2.0l-2.0 2.0M203.3 168.2l2.0 2.0m0 -2.0l-2.0 2.0M203.3 172.8l2.0 2.0m0 -2.0l-2.0 2.0M203.3 174.1l2.0 2.0m0 -2.0l-2.0 2.0M205.0 177.8l2.0 2.0m0 -2.0l-2.0 2.0M204.6 181.8l2.0 2.0m0 -2.0l-2.0 2.0M206.6 166.3l2.0 2.0m0 -2.0l-2.0 2.0M207.0 180.7l2.0 2.0m0 -2.0l-2.0 2.0M209.2 171.8l2.0 2.0m0 -2.0l-2.0 2.0M210.8 179.4l2.0 2.0m0 -2.0l-2.0 2.0M211.8 167.8l2.0 2.0m0 -2.0l-2.0 2.0M211.8 170.9l2.0 2.0m0 -2.0l-2.0 2.0M211.8 175.5l2.0 2.0m0 -2.0l-2.0 2.0M212.5 177.4l2.0 2.0m0 -2.0l-2.0 2.0M213.1 180.4l2.0 2.0m0 -2.0l-2.0 2.0M214.4 174.1l2.0 2.0m0 -2.0l-2.0 2.0M215.1 178.1l2.0 2.0m0 -2.0l-2.0 2.0M216.4 171.2l2.0 2.0m0 -2.0l-2.0 2.0M217.1 176.8l2.0 2.0m0 -2.0l-2.0 2.0M217.7 180.7l2.0 2.0m0 -2.0l-2.0 2.0M218.4 182.0l2.0 2.0m0 -2.0l-2.0 2.0M219.3 173.1l2.0 2.0m0 -2.0l-2.0 2.0M219.7 176.8l2.0 2.0m0 -2.0l-2.0 2.0M220.4 180.7l2.0 2.0m0 -2.0l-2.0 2.0M221.0 171.5l2.0 2.0m0 -2.0l-2.0 2.0M222.3 169.5l2.0 2.0m0 -2.0l-2.0 2.0M223.6 168.2l2.0 2.0m0 -2.0l-2.0 2.0M223.6 181.8l2.0 2.0m0 -2.0l-2.0 2.0M225.6 178.1l2.0 2.0m0 -2.0l-2.0 2.0M226.3 180.4l2.0 2.0m0 -2.0l-2.0 2.0M228.2 178.7l2.0 2.0m0 -2.0l-2.0 2.0M228.9 166.3l2.0 2.0m0 -2.0l-2.0 2.0M230.2 176.8l2.0 2.0m0 -2.0l-2.0 2.0M230.9 173.5l2.0 2.0m0 -2.0l-2.0 2.0M231.5 181.4l2.0 2.0m0 -2.0l-2.0 2.0M232.2 168.2l2.0 2.0m0 -2.0l-2.0 2.0M232.8 166.9l2.0 2.0m0 -2.0l-2.0 2.0M233.5 180.7l2.0 2.0m0 -2.0l-2.0 2.0M234.2 170.9l2.0 2.0m0 -2.0l-2.0 2.0M236.1 181.4l2.0 2.0m0 -2.0l-2.0 2.0M236.5 166.9l2.0 2.0m0 -2.0l-2.0 2.0M236.8 172.8l2.0 2.0m0 -2.0l-2.0 2.0M237.4 178.1l2.0 2.0m0 -2.0l-2.0 2.0M238.1 168.2l2.0 2.0m0 -2.0l-2.0 2.0M239.7 170.2l2.0 2.0m0 -2.0l-2.0 2.0M239.7 179.1l2.0 2.0m0 -2.0l-2.0 2.0M241.0 171.5l2.0 2.0m0 -2.0l-2.0 2.0M242.3 166.9l2.0 2.0m0 -2.0l-2.0 2.0M242.9 178.1l2.0 2.0m0 -2.0l-2.0 2.0M242.7 183.1l2.0 2.0m0 -2.0l-2.0 2.0M244.3 170.9l2.0 2.0m0 -2.0l-2.0 2.0M245.6 174.8l2.0 2.0m0 -2.0l-2.0 2.0M246.2 182.7l2.0 2.0m0 -2.0l-2.0 2.0M247.1 166.5l2.0 2.0m0 -2.0l-2.0 2.0M247.5 168.2l2.0 2.0m0 -2.0l-2.0 2.0M247.5 181.8l2.0 2.0m0 -2.0l-2.0 2.0M248.9 175.5l2.0 2.0m0 -2.0l-2.0 2.0M249.5 168.9l2.0 2.0m0 -2.0l-2.0 2.0M250.2 172.8l2.0 2.0m0 -2.0l-2.0 2.0M251.5 166.3l2.0 2.0m0 -2.0l-2.0 2.0M251.7 179.4l2.0 2.0m0 -2.0l-2.0 2.0M252.5 170.5l2.0 2.0m0 -2.0l-2.0 2.0M256.3 166.9l2.0 2.0m0 -2.0l-2.0 2.0M257.0 171.2l2.0 2.0m0 -2.0l-2.0 2.0M257.4 173.5l2.0 2.0m0 -2.0l-2.0 2.0M257.4 176.5l2.0 2.0m0 -2.0l-2.0 2.0M256.7 182.3l2.0 2.0m0 -2.0l-2.0 2.0M258.7 181.8l2.0 2.0m0 -2.0l-2.0 2.0M261.3 169.9l2.0 2.0m0 -2.0l-2.0 2.0M262.0 172.2l2.0 2.0m0 -2.0l-2.0 2.0M262.7 177.4l2.0 2.0m0 -2.0l-2.0 2.0M263.3 170.9l2.0 2.0m0 -2.0l-2.0 2.0M264.2 179.4l2.0 2.0m0 -2.0l-2.0 2.0M264.9 174.1l2.0 2.0m0 -2.0l-2.0 2.0M280.1 171.5l2.0 2.0m0 -2.0l-2.0 2.0M280.8 182.0l2.0 2.0m0 -2.0l-2.0 2.0M284.3 181.0l2.0 2.0m0 -2.0l-2.0 2.0M290.6 182.0l2.0 2.0m0 -2.0l-2.0 2.0" stroke="#DBAA92" stroke-width="1.1" fill="none" opacity="0.95"/>
<path d="M164.5 202.5l2.0 2.0m0 -2.0l-2.0 2.0M171.1 195.5l2.0 2.0m0 -2.0l-2.0 2.0M175.7 207.7l2.0 2.0m0 -2.0l-2.0 2.0M179.4 207.7l2.0 2.0m0 -2.0l-2.0 2.0M179.0 209.7l2.0 2.0m0 -2.0l-2.0 2.0M180.7 203.4l2.0 2.0m0 -2.0l-2.0 2.0M181.6 209.7l2.0 2.0m0 -2.0l-2.0 2.0M183.8 202.7l2.0 2.0m0 -2.0l-2.0 2.0M187.5 206.8l2.0 2.0m0 -2.0l-2.0 2.0M189.7 198.9l2.0 2.0m0 -2.0l-2.0 2.0M190.1 202.1l2.0 2.0m0 -2.0l-2.0 2.0M189.9 208.4l2.0 2.0m0 -2.0l-2.0 2.0M196.7 210.8l2.0 2.0m0 -2.0l-2.0 2.0M198.0 209.1l2.0 2.0m0 -2.0l-2.0 2.0M202.0 207.1l2.0 2.0m0 -2.0l-2.0 2.0M205.6 198.9l2.0 2.0m0 -2.0l-2.0 2.0M206.6 206.8l2.0 2.0m0 -2.0l-2.0 2.0M207.2 211.3l2.0 2.0m0 -2.0l-2.0 2.0M209.8 209.7l2.0 2.0m0 -2.0l-2.0 2.0M211.2 209.1l2.0 2.0m0 -2.0l-2.0 2.0M211.4 195.3l2.0 2.0m0 -2.0l-2.0 2.0M213.8 204.7l2.0 2.0m0 -2.0l-2.0 2.0M213.8 211.7l2.0 2.0m0 -2.0l-2.0 2.0M214.4 201.6l2.0 2.0m0 -2.0l-2.0 2.0M215.1 200.2l2.0 2.0m0 -2.0l-2.0 2.0M216.4 196.6l2.0 2.0m0 -2.0l-2.0 2.0M217.3 198.1l2.0 2.0m0 -2.0l-2.0 2.0M218.4 204.7l2.0 2.0m0 -2.0l-2.0 2.0M219.7 197.9l2.0 2.0m0 -2.0l-2.0 2.0M220.1 210.4l2.0 2.0m0 -2.0l-2.0 2.0M221.0 196.8l2.0 2.0m0 -2.0l-2.0 2.0M221.7 206.4l2.0 2.0m0 -2.0l-2.0 2.0M222.3 202.5l2.0 2.0m0 -2.0l-2.0 2.0M223.0 209.7l2.0 2.0m0 -2.0l-2.0 2.0M223.6 211.7l2.0 2.0m0 -2.0l-2.0 2.0M224.3 200.5l2.0 2.0m0 -2.0l-2.0 2.0M225.0 198.5l2.0 2.0m0 -2.0l-2.0 2.0M225.0 204.5l2.0 2.0m0 -2.0l-2.0 2.0M225.6 210.4l2.0 2.0m0 -2.0l-2.0 2.0M226.9 205.8l2.0 2.0m0 -2.0l-2.0 2.0M227.6 209.7l2.0 2.0m0 -2.0l-2.0 2.0M228.2 203.1l2.0 2.0m0 -2.0l-2.0 2.0M229.6 211.0l2.0 2.0m0 -2.0l-2.0 2.0M230.2 199.9l2.0 2.0m0 -2.0l-2.0 2.0M230.9 205.1l2.0 2.0m0 -2.0l-2.0 2.0M231.5 211.0l2.0 2.0m0 -2.0l-2.0 2.0M232.8 196.6l2.0 2.0m0 -2.0l-2.0 2.0M233.5 198.1l2.0 2.0m0 -2.0l-2.0 2.0M234.8 195.9l2.0 2.0m0 -2.0l-2.0 2.0M236.1 207.1l2.0 2.0m0 -2.0l-2.0 2.0M236.8 198.5l2.0 2.0m0 -2.0l-2.0 2.0M237.4 205.8l2.0 2.0m0 -2.0l-2.0 2.0M237.7 195.3l2.0 2.0m0 -2.0l-2.0 2.0M238.8 208.4l2.0 2.0m0 -2.0l-2.0 2.0M239.7 204.5l2.0 2.0m0 -2.0l-2.0 2.0M239.4 208.4l2.0 2.0m0 -2.0l-2.0 2.0M241.6 200.5l2.0 2.0m0 -2.0l-2.0 2.0M241.6 206.0l2.0 2.0m0 -2.0l-2.0 2.0M242.3 198.9l2.0 2.0m0 -2.0l-2.0 2.0M243.6 195.5l2.0 2.0m0 -2.0l-2.0 2.0M245.3 206.0l2.0 2.0m0 -2.0l-2.0 2.0M245.6 209.7l2.0 2.0m0 -2.0l-2.0 2.0M246.2 199.2l2.0 2.0m0 -2.0l-2.0 2.0M246.9 199.9l2.0 2.0m0 -2.0l-2.0 2.0M248.9 196.8l2.0 2.0m0 -2.0l-2.0 2.0M249.5 199.9l2.0 2.0m0 -2.0l-2.0 2.0M249.5 204.7l2.0 2.0m0 -2.0l-2.0 2.0M250.2 206.4l2.0 2.0m0 -2.0l-2.0 2.0M250.8 196.8l2.0 2.0m0 -2.0l-2.0 2.0M251.5 207.7l2.0 2.0m0 -2.0l-2.0 2.0M252.1 202.5l2.0 2.0m0 -2.0l-2.0 2.0M253.7 204.5l2.0 2.0m0 -2.0l-2.0 2.0M254.1 200.2l2.0 2.0m0 -2.0l-2.0 2.0M254.8 195.5l2.0 2.0m0 -2.0l-2.0 2.0M255.8 197.9l2.0 2.0m0 -2.0l-2.0 2.0M259.4 209.1l2.0 2.0m0 -2.0l-2.0 2.0M261.1 210.8l2.0 2.0m0 -2.0l-2.0 2.0M265.0 204.7l2.0 2.0m0 -2.0l-2.0 2.0M265.9 205.8l2.0 2.0m0 -2.0l-2.0 2.0M266.2 197.9l2.0 2.0m0 -2.0l-2.0 2.0M266.6 195.9l2.0 2.0m0 -2.0l-2.0 2.0M270.1 202.1l2.0 2.0m0 -2.0l-2.0 2.0M273.4 208.1l2.0 2.0m0 -2.0l-2.0 2.0M277.4 207.7l2.0 2.0m0 -2.0l-2.0 2.0M277.8 199.9l2.0 2.0m0 -2.0l-2.0 2.0M278.4 203.8l2.0 2.0m0 -2.0l-2.0 2.0M279.5 211.0l2.0 2.0m0 -2.0l-2.0 2.0M280.4 201.8l2.0 2.0m0 -2.0l-2.0 2.0M284.3 196.6l2.0 2.0m0 -2.0l-2.0 2.0M285.0 208.1l2.0 2.0m0 -2.0l-2.0 2.0M285.6 197.9l2.0 2.0m0 -2.0l-2.0 2.0M286.3 203.1l2.0 2.0m0 -2.0l-2.0 2.0M287.4 201.6l2.0 2.0m0 -2.0l-2.0 2.0M292.0 210.0l2.0 2.0m0 -2.0l-2.0 2.0M295.5 201.2l2.0 2.0m0 -2.0l-2.0 2.0M302.5 210.0l2.0 2.0m0 -2.0l-2.0 2.0M302.7 204.7l2.0 2.0m0 -2.0l-2.0 2.0" stroke="#D4957C" stroke-width="1.1" fill="none" opacity="0.95"/>
<path d="M56.4 13.1V222.6H314.8" stroke="#1a1a1a" stroke-width="1.15" fill="none"/>
<path d="M56.4 30.6h3M56.4 59.7h3M56.4 88.8h3M56.4 117.9h3M56.4 147.0h3M56.4 176.1h3M56.4 205.2h3M70.9 222.6v-3M101.3 222.6v-3M131.8 222.6v-3M162.2 222.6v-3M192.6 222.6v-3M223.0 222.6v-3M253.4 222.6v-3M283.9 222.6v-3M314.3 222.6v-3" stroke="#1a1a1a" stroke-width="0.7" fill="none"/>
<text x="53.5" y="34.2" font-size="8.8" class="s" text-anchor="end" fill="#262626" textLength="52.8" lengthAdjust="spacingAndGlyphs">Neutrophil %</text>
<text x="53.5" y="63.3" font-size="8.8" class="s" text-anchor="end" fill="#262626" textLength="49.1" lengthAdjust="spacingAndGlyphs">Coag./Endo.</text>
<text x="53.5" y="92.4" font-size="8.8" class="s" text-anchor="end" fill="#262626" textLength="31.9" lengthAdjust="spacingAndGlyphs">T cell %</text>
<text x="53.5" y="121.5" font-size="8.8" class="s" text-anchor="end" fill="#262626" textLength="37.7" lengthAdjust="spacingAndGlyphs">IFN score</text>
<text x="53.5" y="150.6" font-size="8.8" class="s" text-anchor="end" fill="#262626" textLength="42.6" lengthAdjust="spacingAndGlyphs">TNF/NF-κB</text>
<text x="53.5" y="179.7" font-size="8.8" class="s" text-anchor="end" fill="#262626" textLength="33.9" lengthAdjust="spacingAndGlyphs">IL-6/CRP</text>
<text x="53.5" y="208.8" font-size="8.8" class="s" text-anchor="end" fill="#262626" textLength="44.0" lengthAdjust="spacingAndGlyphs">AP-1/MAPK</text>
<text x="70.9" y="232.1" font-size="8.8" class="s" text-anchor="middle" fill="#262626" textLength="25.0" lengthAdjust="spacingAndGlyphs">−1.00</text>
<text x="101.3" y="232.1" font-size="8.8" class="s" text-anchor="middle" fill="#262626" textLength="25.0" lengthAdjust="spacingAndGlyphs">−0.75</text>
<text x="131.8" y="232.1" font-size="8.8" class="s" text-anchor="middle" fill="#262626" textLength="25.0" lengthAdjust="spacingAndGlyphs">−0.50</text>
<text x="162.2" y="232.1" font-size="8.8" class="s" text-anchor="middle" fill="#262626" textLength="25.0" lengthAdjust="spacingAndGlyphs">−0.25</text>
<text x="192.6" y="232.1" font-size="8.8" class="s" text-anchor="middle" fill="#262626" textLength="18.1" lengthAdjust="spacingAndGlyphs">0.00</text>
<text x="223.0" y="232.1" font-size="8.8" class="s" text-anchor="middle" fill="#262626" textLength="18.1" lengthAdjust="spacingAndGlyphs">0.25</text>
<text x="253.4" y="232.1" font-size="8.8" class="s" text-anchor="middle" fill="#262626" textLength="18.1" lengthAdjust="spacingAndGlyphs">0.50</text>
<text x="283.9" y="232.1" font-size="8.8" class="s" text-anchor="middle" fill="#262626" textLength="18.1" lengthAdjust="spacingAndGlyphs">0.75</text>
<text x="314.3" y="232.1" font-size="8.8" class="s" text-anchor="middle" fill="#262626" textLength="18.1" lengthAdjust="spacingAndGlyphs">1.00</text>
<text x="185.9" y="242.9" font-size="8.9" class="s" text-anchor="middle" fill="#262626" textLength="155.6" lengthAdjust="spacingAndGlyphs">SHAP value (impact on model output)</text>
<text x="185.8" y="9.3" font-size="11.4" class="s" text-anchor="middle" fill="#262626" textLength="265" lengthAdjust="spacingAndGlyphs">Feature Attributions (palette-applied beeswarm)</text>
</g>
<g id="right">
<rect x="406.5" y="35.3" width="31.0" height="171.1" fill="#D4957C" stroke="#2a2a2a" stroke-width="0.7"/>
<rect x="445.2" y="42.1" width="31.0" height="164.3" fill="#B7BAA5" stroke="#2a2a2a" stroke-width="0.7"/>
<rect x="483.9" y="65.9" width="31.0" height="140.5" fill="#DBAA92" stroke="#2a2a2a" stroke-width="0.7"/>
<rect x="522.7" y="65.9" width="31.0" height="140.5" fill="#F8E8D6" stroke="#2a2a2a" stroke-width="0.7"/>
<rect x="561.4" y="66.8" width="31.0" height="139.6" fill="#A4A88D" stroke="#2a2a2a" stroke-width="0.7"/>
<rect x="600.1" y="89.6" width="31.0" height="116.8" fill="#E4BBA6" stroke="#2a2a2a" stroke-width="0.7"/>
<rect x="638.8" y="115.6" width="31.0" height="90.8" fill="#66745A" stroke="#2a2a2a" stroke-width="0.7"/>
<g stroke="#bdbdbd" stroke-opacity="0.55" stroke-width="0.7" stroke-dasharray="1.2 1.2" fill="none">
<path d="M422.0 26.4V206.4"/>
<path d="M460.7 26.4V206.4"/>
<path d="M499.4 26.4V206.4"/>
<path d="M538.2 26.4V206.4"/>
<path d="M576.9 26.4V206.4"/>
<path d="M615.6 26.4V206.4"/>
<path d="M654.3 26.4V206.4"/>
<path d="M393.6 206.4H685"/>
<path d="M393.6 183.6H685"/>
<path d="M393.6 160.8H685"/>
<path d="M393.6 138.0H685"/>
<path d="M393.6 115.1H685"/>
<path d="M393.6 92.3H685"/>
<path d="M393.6 69.5H685"/>
<path d="M393.6 46.7H685"/>
</g>
<path d="M393.6 26.4V206.4H685" stroke="#222" stroke-width="0.8" fill="none"/>
<path d="M422.0 206.4v-3M460.7 206.4v-3M499.4 206.4v-3M538.2 206.4v-3M576.9 206.4v-3M615.6 206.4v-3M654.3 206.4v-3M393.6 206.4h3M393.6 183.6h3M393.6 160.8h3M393.6 138.0h3M393.6 115.1h3M393.6 92.3h3M393.6 69.5h3M393.6 46.7h3" stroke="#1a1a1a" stroke-width="0.7" fill="none"/>
<text x="390.5" y="210.1" font-size="9.1" class="s" text-anchor="end" fill="#262626" textLength="18.5" lengthAdjust="spacingAndGlyphs">0.00</text>
<text x="390.5" y="187.3" font-size="9.1" class="s" text-anchor="end" fill="#262626" textLength="18.5" lengthAdjust="spacingAndGlyphs">0.05</text>
<text x="390.5" y="164.5" font-size="9.1" class="s" text-anchor="end" fill="#262626" textLength="18.5" lengthAdjust="spacingAndGlyphs">0.10</text>
<text x="390.5" y="141.7" font-size="9.1" class="s" text-anchor="end" fill="#262626" textLength="18.5" lengthAdjust="spacingAndGlyphs">0.15</text>
<text x="390.5" y="118.8" font-size="9.1" class="s" text-anchor="end" fill="#262626" textLength="18.5" lengthAdjust="spacingAndGlyphs">0.20</text>
<text x="390.5" y="96.0" font-size="9.1" class="s" text-anchor="end" fill="#262626" textLength="18.5" lengthAdjust="spacingAndGlyphs">0.25</text>
<text x="390.5" y="73.2" font-size="9.1" class="s" text-anchor="end" fill="#262626" textLength="18.5" lengthAdjust="spacingAndGlyphs">0.30</text>
<text x="390.5" y="50.4" font-size="9.1" class="s" text-anchor="end" fill="#262626" textLength="18.5" lengthAdjust="spacingAndGlyphs">0.35</text>
<text transform="translate(421.3 214.8) rotate(-30)" font-size="9.1" class="s" text-anchor="end" fill="#262626" textLength="45.9" lengthAdjust="spacingAndGlyphs">AP-1/MAPK</text>
<text transform="translate(460.0 214.8) rotate(-30)" font-size="9.1" class="s" text-anchor="end" fill="#262626" textLength="33.3" lengthAdjust="spacingAndGlyphs">T cell %</text>
<text transform="translate(498.7 214.8) rotate(-30)" font-size="9.1" class="s" text-anchor="end" fill="#262626" textLength="35.4" lengthAdjust="spacingAndGlyphs">IL-6/CRP</text>
<text transform="translate(537.5 214.8) rotate(-30)" font-size="9.1" class="s" text-anchor="end" fill="#262626" textLength="39.3" lengthAdjust="spacingAndGlyphs">IFN score</text>
<text transform="translate(576.2 214.8) rotate(-30)" font-size="9.1" class="s" text-anchor="end" fill="#262626" textLength="51.2" lengthAdjust="spacingAndGlyphs">Coag./Endo.</text>
<text transform="translate(614.9 214.8) rotate(-30)" font-size="9.1" class="s" text-anchor="end" fill="#262626" textLength="44.5" lengthAdjust="spacingAndGlyphs">TNF/NF-κB</text>
<text transform="translate(653.6 214.8) rotate(-30)" font-size="9.1" class="s" text-anchor="end" fill="#262626" textLength="55.1" lengthAdjust="spacingAndGlyphs">Neutrophil %</text>
<text transform="translate(367.3 116.6) rotate(-90)" font-size="8.9" class="s" text-anchor="middle" fill="#262626" textLength="55.8" lengthAdjust="spacingAndGlyphs">mean |SHAP|</text>
<text x="537.9" y="22.3" font-size="11.8" class="s" text-anchor="middle" fill="#262626" textLength="259.2" lengthAdjust="spacingAndGlyphs">Global Feature Importance (palette-matched)</text>
</g>
<text x="1.6" y="260.8" font-size="18" font-family="'Liberation Serif',serif" fill="#111">(a)</text>
<text x="355.6" y="261.8" font-size="18" font-family="'Liberation Serif',serif" fill="#111">(b)</text>
</svg>
</body></html>
